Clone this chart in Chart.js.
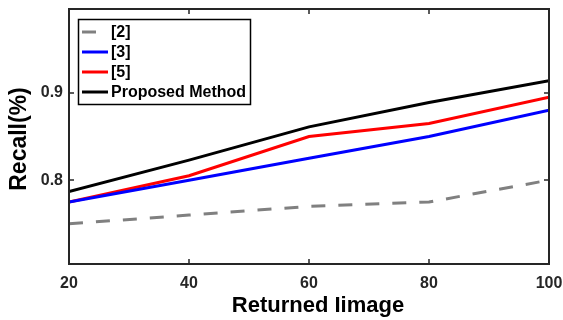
<!DOCTYPE html>
<html>
<head>
<meta charset="utf-8">
<script src="https://cdn.jsdelivr.net/npm/chart.js@4.4.1/dist/chart.umd.min.js"></script>
<style>
html,body{margin:0;padding:0;background:#fff;}
#wrap{width:563px;height:320px;position:relative;}
</style>
</head>
<body>
<div id="wrap"><canvas id="c" width="563" height="320"></canvas></div>
<script>
const categories = [20, 40, 60, 80, 100];
const ref2 = [0.750, 0.760, 0.770, 0.775, 0.800];
const ref3 = [0.775, 0.800, 0.825, 0.850, 0.880];
const ref5 = [0.775, 0.805, 0.850, 0.865, 0.895];
const proposed = [0.787, 0.823, 0.861, 0.889, 0.914];
const seriesNames = ['[2]', '[3]', '[5]', 'Proposed Method'];
const xTicks = [20, 40, 60, 80, 100];
const yTicks = [0.8, 0.9];
const xTitle = 'Returned Iimage';
const yTitle = 'Recall(%)';

const FONT = '"Liberation Sans", Arial, Helvetica, sans-serif';
const AXC = '#262626';

function pts(vals){ return categories.map((x,i)=>({x:x, y:vals[i]})); }

const datasets = [
  {label: seriesNames[0], data: pts(ref2), borderColor:'#808080', borderWidth:3, borderDash:[14,13], pointRadius:0, tension:0},
  {label: seriesNames[1], data: pts(ref3), borderColor:'#0000ff', borderWidth:3, pointRadius:0, tension:0},
  {label: seriesNames[2], data: pts(ref5), borderColor:'#ff0000', borderWidth:3, pointRadius:0, tension:0},
  {label: seriesNames[3], data: pts(proposed), borderColor:'#000000', borderWidth:3, pointRadius:0, tension:0}
];

function zeroPad(s){ s.paddingTop = 0; s.paddingBottom = 0; s.paddingLeft = 0; s.paddingRight = 0; }

const framePlugin = {
  id:'frame',
  afterDatasetsDraw(chart){
    const {ctx, chartArea:a, scales:{x, y}} = chart;
    ctx.save();
    ctx.strokeStyle = AXC;
    ctx.lineWidth = 1.5;
    ctx.beginPath();
    xTicks.forEach(v=>{
      const px = Math.round(x.getPixelForValue(v));
      ctx.moveTo(px, a.bottom); ctx.lineTo(px, a.bottom-5);
      ctx.moveTo(px, a.top); ctx.lineTo(px, a.top+5);
    });
    yTicks.forEach(v=>{
      const py = Math.round(y.getPixelForValue(v));
      ctx.moveTo(a.left, py); ctx.lineTo(a.left+5, py);
      ctx.moveTo(a.right, py); ctx.lineTo(a.right-5, py);
    });
    ctx.stroke();
    ctx.lineWidth = 2;
    ctx.strokeRect(a.left, a.top, a.right-a.left, a.bottom-a.top);
    ctx.restore();

    // axis titles
    ctx.save();
    ctx.fillStyle = '#000';
    ctx.textAlign = 'center';
    ctx.textBaseline = 'middle';
    ctx.font = 'bold 22px ' + FONT;
    ctx.fillText(xTitle, 318, 306);
    ctx.translate(20, 139);
    ctx.rotate(-Math.PI/2);
    ctx.font = 'bold 23px ' + FONT;
    ctx.fillText(yTitle, 0, 0);
    ctx.restore();

    // legend
    ctx.save();
    const lx = 78.5, ly = 19.5, lw = 172, lh = 85;
    ctx.fillStyle = '#fff';
    ctx.fillRect(lx, ly, lw, lh);
    ctx.strokeStyle = '#000';
    ctx.lineWidth = 1.5;
    ctx.strokeRect(lx, ly, lw, lh);
    const rows = [32, 52, 72, 92];
    ctx.font = 'bold 16px ' + FONT;
    ctx.textBaseline = 'middle';
    ctx.textAlign = 'left';
    chart.data.datasets.forEach((ds, i)=>{
      const yy = rows[i];
      ctx.strokeStyle = ds.borderColor;
      ctx.lineWidth = 3;
      ctx.setLineDash(ds.borderDash || []);
      ctx.beginPath();
      ctx.moveTo(82, yy); ctx.lineTo(108, yy);
      ctx.stroke();
      ctx.setLineDash([]);
      ctx.fillStyle = '#000';
      ctx.fillText(ds.label, 111, yy+1);
    });
    ctx.restore();
  }
};

new Chart(document.getElementById('c'), {
  type:'line',
  data:{datasets},
  options:{
    responsive:false,
    animation:false,
    devicePixelRatio:1,
    layout:{autoPadding:false, padding:{top:9, right:14, left:0, bottom:0}},
    plugins:{legend:{display:false}, tooltip:{enabled:false}},
    scales:{
      x:{
        type:'linear', min:20, max:100,
        afterBuildTicks(s){ s.ticks = xTicks.map(v=>({value:v})); },
        afterFit(s){ s.height = 56; zeroPad(s); },
        grid:{display:false, drawTicks:false, tickLength:0},
        border:{display:false},
        ticks:{color:AXC, padding:10, font:{family:FONT, size:16, weight:'bold'}, maxRotation:0},
        title:{display:false}
      },
      y:{
        type:'linear', min:0.704, max:0.996,
        afterBuildTicks(s){ s.ticks = yTicks.map(v=>({value:v})); },
        afterFit(s){ s.width = 69; zeroPad(s); },
        grid:{display:false, drawTicks:false, tickLength:0},
        border:{display:false},
        ticks:{color:AXC, padding:6, font:{family:FONT, size:16, weight:'bold'}, callback:v=>v.toFixed(1)},
        title:{display:false}
      }
    }
  },
  plugins:[framePlugin]
});
</script>
</body>
</html>
